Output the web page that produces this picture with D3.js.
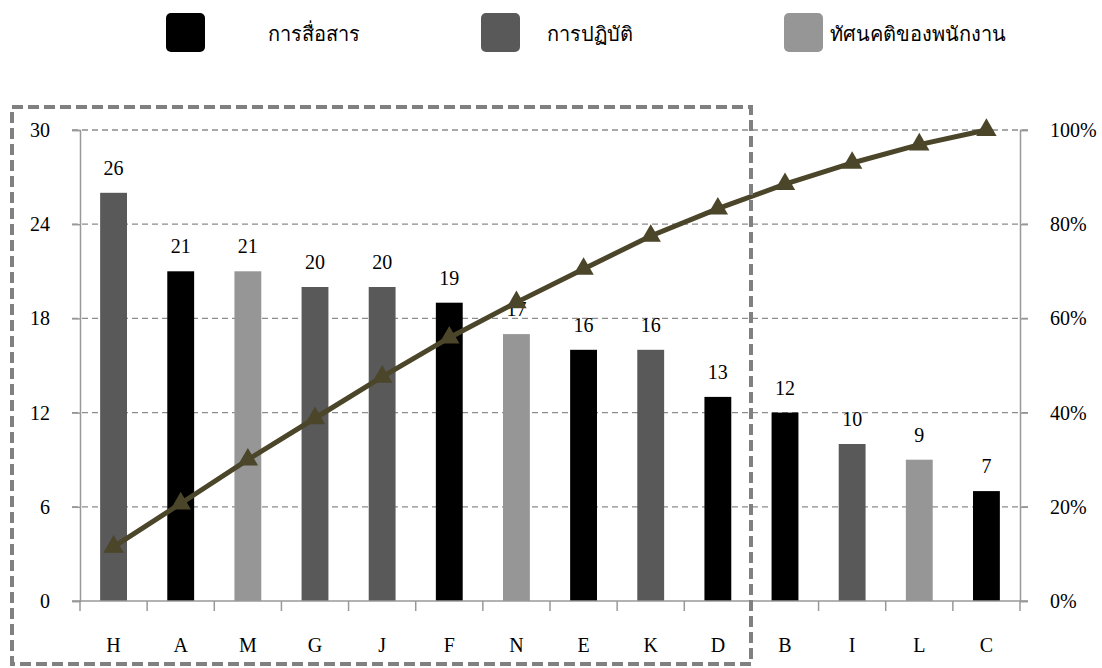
<!DOCTYPE html>
<html>
<head>
<meta charset="utf-8">
<script src="https://cdn.jsdelivr.net/npm/d3@7"></script>
<style>
  body { margin: 0; background: #fff; }
  svg { display: block; font-family: "Liberation Serif", "Times New Roman", serif; }
</style>
</head>
<body>
<svg id="chart" width="1102" height="668"></svg>
<script>
// Problem causes, sorted by frequency
const categories = ["H", "A", "M", "G", "J", "F", "N", "E", "K", "D", "B", "I", "L", "C"];
const counts = [26, 21, 21, 20, 20, 19, 17, 16, 16, 13, 12, 10, 9, 7];
const groups = ["การปฏิบัติ", "การสื่อสาร", "ทัศนคติของพนักงาน", "การปฏิบัติ", "การปฏิบัติ",
                "การสื่อสาร", "ทัศนคติของพนักงาน", "การสื่อสาร", "การปฏิบัติ", "การสื่อสาร",
                "การสื่อสาร", "การปฏิบัติ", "ทัศนคติของพนักงาน", "การสื่อสาร"];
// Cumulative share (%)
const cumulative = [11.5, 20.7, 30.0, 38.8, 47.6, 55.9, 63.4, 70.5, 77.5, 83.3, 88.5, 93.0, 96.9, 100];
const legendItems = ["การสื่อสาร", "การปฏิบัติ", "ทัศนคติของพนักงาน"];
const leftTicks = [0, 6, 12, 18, 24, 30];
const rightTicks = [0, 20, 40, 60, 80, 100];

const colorOf = d3.scaleOrdinal().domain(legendItems).range(["#000000", "#595959", "#969696"]);

const svg = d3.select("#chart");
const plotLeft = 80, plotRight = 1020, plotTop = 130, plotBottom = 601;

const x = d3.scaleBand().domain(categories).range([plotLeft, plotRight]).paddingInner(0.6).paddingOuter(0.3);
const xb = d3.scaleBand().domain(categories).range([plotLeft, plotRight]);
const y = d3.scaleLinear().domain([0, 30]).range([plotBottom, plotTop]);
const yp = d3.scaleLinear().domain([0, 100]).range([plotBottom, plotTop]);

// Legend
const legendX = [166, 481, 784];
const legendTextX = [268, 547, 830];
legendItems.forEach((name, i) => {
  svg.append("rect").attr("x", legendX[i]).attr("y", 13).attr("width", 39).attr("height", 39)
    .attr("rx", 5).attr("fill", colorOf(name));
  svg.append("text").attr("x", legendTextX[i]).attr("y", 41).attr("font-size", 20)
    .attr("fill", "#000").text(name);
});

// Gridlines
svg.append("g").selectAll("line").data(leftTicks.slice(1)).join("line")
  .attr("x1", plotLeft - 8).attr("x2", plotRight + 8)
  .attr("y1", d => y(d)).attr("y2", d => y(d))
  .attr("stroke", "#8c8c8c").attr("stroke-width", 1.3).attr("stroke-dasharray", "6,4");

// Left axis
const gl = svg.append("g").attr("transform", `translate(${plotLeft},0)`)
  .call(d3.axisLeft(y).tickValues(leftTicks).tickSize(8).tickPadding(22));
gl.select(".domain").attr("stroke", "#999").attr("stroke-width", 1.5);
gl.selectAll(".tick line").attr("stroke", "#999").attr("stroke-width", 1.5);
gl.selectAll(".tick text").attr("font-size", 20).attr("font-family", "Liberation Serif").attr("fill", "#000");

// Right axis
const gr = svg.append("g").attr("transform", `translate(${plotRight},0)`)
  .call(d3.axisRight(yp).tickValues(rightTicks).tickSize(8).tickPadding(22).tickFormat(d => d + "%"));
gr.select(".domain").attr("stroke", "#999").attr("stroke-width", 1.5);
gr.selectAll(".tick line").attr("stroke", "#999").attr("stroke-width", 1.5);
gr.selectAll(".tick text").attr("font-size", 20).attr("font-family", "Liberation Serif").attr("fill", "#000");

// Bars
svg.append("g").selectAll("rect").data(categories).join("rect")
  .attr("x", d => x(d)).attr("width", x.bandwidth())
  .attr("y", (d, i) => y(counts[i])).attr("height", (d, i) => y(0) - y(counts[i]))
  .attr("fill", (d, i) => colorOf(groups[i]));

// Value labels
svg.append("g").selectAll("text").data(categories).join("text")
  .attr("x", d => x(d) + x.bandwidth() / 2)
  .attr("y", (d, i) => y(counts[i]) - 18)
  .attr("text-anchor", "middle").attr("font-size", 20).attr("fill", "#000")
  .text((d, i) => counts[i]);

// X axis
const gx = svg.append("g").attr("transform", `translate(0,${plotBottom})`);
gx.append("line").attr("x1", plotLeft - 8).attr("x2", plotRight + 8).attr("stroke", "#999").attr("stroke-width", 1.5);
gx.selectAll(".tk").data(d3.range(categories.length + 1)).join("line")
  .attr("x1", i => plotLeft + i * xb.step()).attr("x2", i => plotLeft + i * xb.step())
  .attr("y1", 0).attr("y2", 10).attr("stroke", "#999").attr("stroke-width", 1.5);
gx.selectAll("text").data(categories).join("text")
  .attr("x", d => xb(d) + xb.bandwidth() / 2).attr("y", 51)
  .attr("text-anchor", "middle").attr("font-size", 20).attr("fill", "#000").text(d => d);

// Cumulative line
const cx = (d, i) => xb(categories[i]) + xb.bandwidth() / 2;
svg.append("path").datum(cumulative)
  .attr("d", d3.line().x(cx).y(d => yp(d)))
  .attr("fill", "none").attr("stroke", "#4b452a").attr("stroke-width", 5);
svg.append("g").selectAll("path").data(cumulative).join("path")
  .attr("d", d3.symbol().type(d3.symbolTriangle).size(180))
  .attr("transform", (d, i) => `translate(${cx(d, i)},${yp(d)})`)
  .attr("fill", "#4b452a");

// Highlight frame around the first ten causes
svg.append("rect").attr("x", 12).attr("y", 107).attr("width", 739).attr("height", 557)
  .attr("fill", "none").attr("stroke", "#808080").attr("stroke-width", 4)
  .attr("stroke-dasharray", "11,5");
</script>
</body>
</html>
